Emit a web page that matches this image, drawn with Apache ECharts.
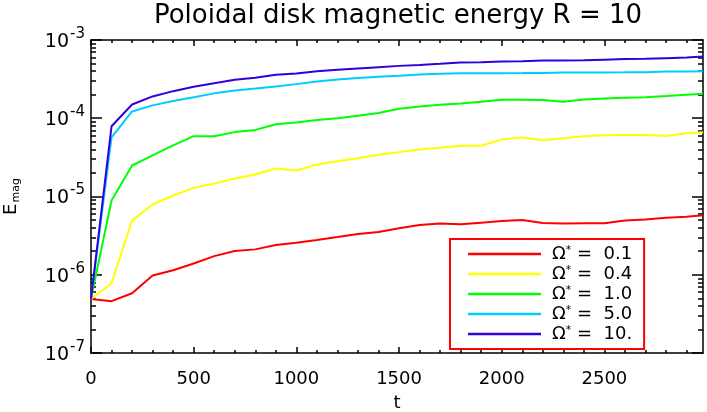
<!DOCTYPE html>
<html lang="en">
  <head>
    <meta charset="UTF-8">
    <title>Poloidal disk magnetic energy</title>
    <style>
      html, body { margin: 0; padding: 0; background: #fff; }
      #chart { width: 707px; height: 412px; }
    </style>
  </head>
  <body>
    <div id="chart"></div>
    <script src="https://cdn.jsdelivr.net/npm/echarts@6/dist/echarts.min.js"></script>
    <script type="text/javascript">
      // time samples
      var times = [0, 100, 200, 300, 400, 500, 600, 700, 800, 900, 1000, 1100, 1200, 1300, 1400,
        1500, 1600, 1700, 1800, 1900, 2000, 2100, 2200, 2300, 2400, 2500, 2600, 2700, 2800, 2900, 2980];

      var omegaLabels = ['0.1', '0.4', '1.0', '5.0', '10.'];
      var lineColors = ['#ff0000', '#ffff00', '#00ff00', '#00ccff', '#3300dd'];

      var emag01 = [4.9e-7, 4.6e-7, 5.8e-7, 9.8e-7, 1.14e-6, 1.39e-6, 1.73e-6, 2.01e-6, 2.11e-6, 2.4e-6,
        2.57e-6, 2.78e-6, 3.03e-6, 3.31e-6, 3.51e-6, 3.92e-6, 4.32e-6, 4.53e-6, 4.42e-6, 4.63e-6,
        4.85e-6, 5.0e-6, 4.6e-6, 4.53e-6, 4.55e-6, 4.55e-6, 4.95e-6, 5.1e-6, 5.35e-6, 5.5e-6, 5.74e-6];
      var emag04 = [4.9e-7, 7.8e-7, 4.95e-6, 7.9e-6, 1.03e-5, 1.29e-5, 1.46e-5, 1.7e-5, 1.91e-5, 2.28e-5,
        2.15e-5, 2.57e-5, 2.83e-5, 3.09e-5, 3.41e-5, 3.69e-5, 4.0e-5, 4.2e-5, 4.45e-5, 4.45e-5,
        5.36e-5, 5.69e-5, 5.25e-5, 5.57e-5, 5.9e-5, 6.05e-5, 6.1e-5, 6.1e-5, 5.95e-5, 6.45e-5, 6.6e-5];
      var emag10 = [4.95e-7, 8.9e-6, 2.49e-5, 3.35e-5, 4.5e-5, 5.9e-5, 5.9e-5, 6.65e-5, 7.1e-5, 8.4e-5,
        8.8e-5, 9.5e-5, 1.0e-4, 1.08e-4, 1.17e-4, 1.32e-4, 1.41e-4, 1.49e-4, 1.54e-4, 1.62e-4,
        1.72e-4, 1.72e-4, 1.71e-4, 1.62e-4, 1.74e-4, 1.79e-4, 1.83e-4, 1.86e-4, 1.92e-4, 2.0e-4, 2.06e-4];
      var emag50 = [4.9e-7, 5.7e-5, 1.22e-4, 1.46e-4, 1.66e-4, 1.85e-4, 2.08e-4, 2.27e-4, 2.4e-4, 2.55e-4,
        2.73e-4, 2.95e-4, 3.13e-4, 3.26e-4, 3.39e-4, 3.49e-4, 3.63e-4, 3.7e-4, 3.77e-4, 3.77e-4,
        3.77e-4, 3.78e-4, 3.8e-4, 3.85e-4, 3.85e-4, 3.85e-4, 3.86e-4, 3.88e-4, 3.95e-4, 3.97e-4, 4.0e-4];
      var emag100 = [4.9e-7, 7.9e-5, 1.5e-4, 1.9e-4, 2.22e-4, 2.52e-4, 2.8e-4, 3.1e-4, 3.3e-4, 3.6e-4,
        3.73e-4, 4.0e-4, 4.16e-4, 4.33e-4, 4.5e-4, 4.67e-4, 4.8e-4, 4.96e-4, 5.16e-4, 5.2e-4,
        5.3e-4, 5.37e-4, 5.47e-4, 5.47e-4, 5.5e-4, 5.6e-4, 5.7e-4, 5.75e-4, 5.86e-4, 5.98e-4, 6.15e-4];

      // axis ticks
      var xMajor = [0, 500, 1000, 1500, 2000, 2500];
      var xMinor = [];
      for (var i = 100; i < 3000; i += 100) { if (i % 500 !== 0) xMinor.push(i); }
      var yMajor = [1e-7, 1e-6, 1e-5, 1e-4, 1e-3];
      var yMinor = [];
      for (var n = -7; n < -3; n++) {
        for (var k = 2; k <= 9; k++) yMinor.push(k * Math.pow(10, n));
      }

      var allData = [emag01, emag04, emag10, emag50, emag100];
      var FONT = 'DejaVu Sans';

      function pairs(arr) {
        return arr.map(function(v, i) { return [times[i], v]; });
      }

      var myChart = echarts.init(document.getElementById('chart'), null, { renderer: 'canvas' });

      function xAx(pos, ticks, len, showLine, showLabel) {
        return {
          type: 'value', position: pos, min: 0, max: 2980, gridIndex: 0,
          splitLine: { show: false },
          axisLine: { show: showLine, onZero: false, lineStyle: { color: '#000', width: 1.5 } },
          axisTick: { show: true, inside: true, length: len, customValues: ticks, lineStyle: { color: '#000', width: 1.5 } },
          axisLabel: {
            show: showLabel, customValues: xMajor, color: '#000', fontFamily: FONT, fontSize: 18, margin: 17,
            alignMinLabel: 'center', hideOverlap: false,
            formatter: function(v) { return String(v); }
          },
          name: showLabel ? 't' : '',
          nameLocation: 'middle', nameGap: 41,
          nameTextStyle: { color: '#000', fontFamily: FONT, fontSize: 18 }
        };
      }
      function yAx(pos, ticks, len, showLine, showLabel) {
        return {
          type: 'log', position: pos, min: 1e-7, max: 1e-3, logBase: 10, gridIndex: 0,
          splitLine: { show: false },
          axisLine: { show: showLine, onZero: false, lineStyle: { color: '#000', width: 1.5 } },
          axisTick: { show: true, inside: true, length: len, customValues: ticks, lineStyle: { color: '#000', width: 1.5 } },
          axisLabel: {
            show: showLabel, customValues: yMajor, margin: 6,
            formatter: function(v) {
              var e = Math.round(Math.log(v) / Math.LN10);
              return '{b|10}{e|' + e + '}';
            },
            rich: {
              b: { color: '#000', fontFamily: FONT, fontSize: 19, padding: [4, 0, 0, 0] },
              e: { color: '#000', fontFamily: FONT, fontSize: 15, padding: [0, 0, 12, 1] }
            }
          },
          name: showLabel ? '{e|E}{m|mag}' : '',
          nameLocation: 'middle', nameGap: 69, nameRotate: 90,
          nameTextStyle: {
            rich: {
              e: { color: '#000', fontFamily: FONT, fontSize: 18 },
              m: { color: '#000', fontFamily: FONT, fontSize: 11, padding: [10, 0, 0, 1] }
            }
          }
        };
      }

      var option = {
        backgroundColor: '#ffffff',
        animation: false,
        title: {
          text: 'Poloidal disk magnetic energy R = 10',
          left: 398, top: 3, textAlign: 'center', padding: 0,
          textStyle: { color: '#000', fontFamily: FONT, fontSize: 26, fontWeight: 'normal' }
        },
        grid: { left: 91, right: 4, top: 40, bottom: 59, containLabel: false, outerBoundsMode: 'none' },
        legend: {
          orient: 'vertical', left: 450, top: 239,
          padding: [5, 12, 5, 18],
          backgroundColor: '#fff',
          borderColor: '#ff0000', borderWidth: 2, borderRadius: 0,
          itemWidth: 73, itemHeight: 2.5, itemGap: 0,
          icon: 'rect',
          data: omegaLabels.map(function(l) { return 'Ω* = ' + l; }),
          formatter: function(name) {
            var val = name.split('= ')[1];
            return '{o|Ω}{s|*}{v| =  ' + val + '}';
          },
          textStyle: {
            color: '#000', fontFamily: FONT, fontSize: 18, lineHeight: 20,
            rich: {
              o: { color: '#000', fontFamily: FONT, fontSize: 18, padding: [0, 0, 0, 6] },
              s: { color: '#000', fontFamily: FONT, fontSize: 11, padding: [0, 0, 8, 0] },
              v: { color: '#000', fontFamily: FONT, fontSize: 18 }
            }
          }
        },
        xAxis: [
          xAx('bottom', xMajor, 6, true, true),
          xAx('bottom', xMinor, 3, false, false),
          xAx('top', xMajor, 6, true, false),
          xAx('top', xMinor, 3, false, false)
        ],
        yAxis: [
          yAx('left', yMajor, 11, true, true),
          yAx('left', yMinor, 5, false, false),
          yAx('right', yMajor, 11, true, false),
          yAx('right', yMinor, 5, false, false)
        ],
        series: allData.map(function(d, i) {
          return {
            name: 'Ω* = ' + omegaLabels[i],
            type: 'line',
            xAxisIndex: 0, yAxisIndex: 0,
            showSymbol: false, symbol: 'none',
            lineStyle: { color: lineColors[i], width: 2 },
            itemStyle: { color: lineColors[i] },
            data: pairs(d)
          };
        })
      };

      myChart.setOption(option);
    </script>
  </body>
</html>
